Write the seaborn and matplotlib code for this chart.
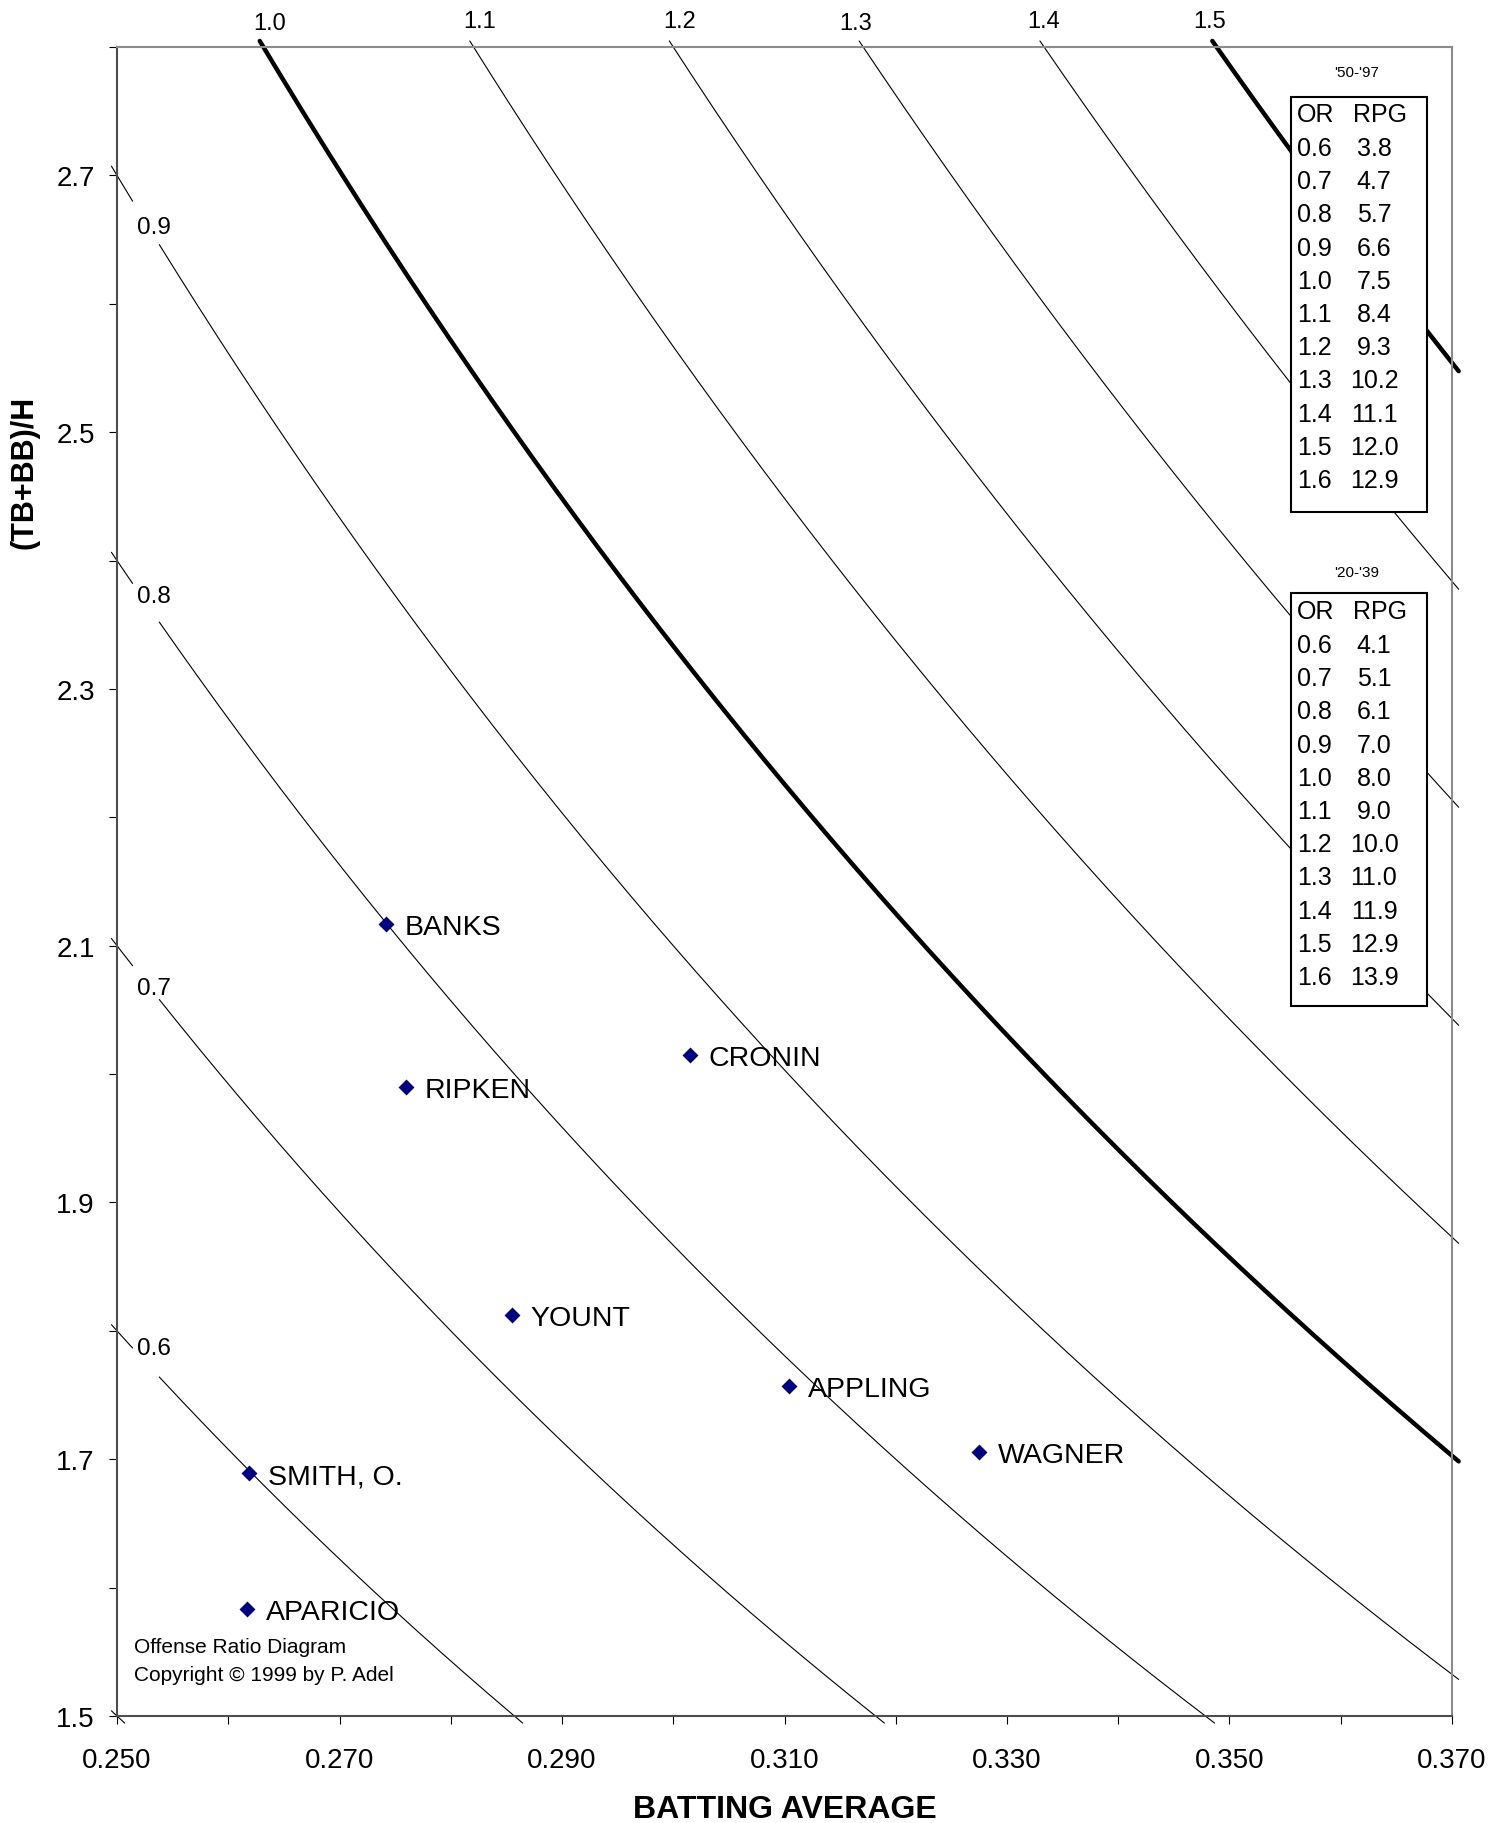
import numpy as np
import pandas as pd
import matplotlib
matplotlib.use("Agg")
import matplotlib.pyplot as plt
from matplotlib.patches import Rectangle
from matplotlib.ticker import FixedLocator, MultipleLocator, FormatStrFormatter
import seaborn as sns

# offense ratio:  OR = (TB+BB)/H * BA / (1 - BA)
or_levels = [0.5, 0.6, 0.7, 0.8, 0.9, 1.0, 1.1, 1.2, 1.3, 1.4, 1.5]
thick_levels = [1.0, 1.5]
left_labels = [0.6, 0.7, 0.8, 0.9]
left_label_r = [1.787, 2.067, 2.372, 2.660]
top_labels = [1.0, 1.1, 1.2, 1.3, 1.4, 1.5]
top_label_dx = [4.3, 4.3, 4.3, -5.8, 0, -5]
top_label_dy = [17.5, 19, 19, 17.5, 19, 19]

players = ["BANKS", "RIPKEN", "CRONIN", "YOUNT", "APPLING", "WAGNER", "SMITH, O.", "APARICIO"]
batting_avg = [0.2742, 0.2760, 0.3015, 0.2855, 0.3104, 0.3275, 0.2619, 0.2617]
tb_bb_per_h = [2.117, 1.990, 2.015, 1.8125, 1.757, 1.7056, 1.689, 1.583]

table_or = [0.6, 0.7, 0.8, 0.9, 1.0, 1.1, 1.2, 1.3, 1.4, 1.5, 1.6]
rpg_50_97 = [3.8, 4.7, 5.7, 6.6, 7.5, 8.4, 9.3, 10.2, 11.1, 12.0, 12.9]
rpg_20_39 = [4.1, 5.1, 6.1, 7.0, 8.0, 9.0, 10.0, 11.0, 11.9, 12.9, 13.9]

x_ticks = [0.250, 0.270, 0.290, 0.310, 0.330, 0.350, 0.370]
y_ticks = [1.5, 1.7, 1.9, 2.1, 2.3, 2.5, 2.7]

sns.set_style("white")
plt.rcParams["font.family"] = ["Liberation Sans", "DejaVu Sans"]
plt.rcParams["text.color"] = "black"
plt.rcParams["axes.labelcolor"] = "black"
plt.rcParams["xtick.color"] = "black"
plt.rcParams["ytick.color"] = "black"

fig = plt.figure(figsize=(15.09, 18.24), dpi=100)
AX_L, AX_R, AX_T, AX_B = 117, 1452, 48, 1717
ax = fig.add_axes([AX_L / 1509, 1 - AX_B / 1824, (AX_R - AX_L) / 1509, (AX_B - AX_T) / 1824])


def fx(px):
    return (px - AX_L) / (AX_R - AX_L)


def fy(py):
    return (AX_B - py) / (AX_B - AX_T)


# curves (drawn a little past the frame, like the original)
x0, x1, y0, y1 = 0.2495, 0.3706, 1.4945, 2.8047
gap = (0.2514, 0.2538)
rows = []
seg = 0
for lvl in or_levels:
    a = max(x0, lvl / (lvl + y1))
    b = min(x1, lvl / (lvl + y0))
    if a >= b:
        continue
    if lvl in left_labels:
        pieces = [np.linspace(a, gap[0], 50), np.linspace(gap[1], b, 400)]
    else:
        pieces = [np.linspace(a, b, 400)]
    for ba in pieces:
        seg += 1
        for v in ba:
            rows.append({"BA": v, "R": lvl * (1 - v) / v, "level": lvl, "seg": seg,
                         "thick": lvl in thick_levels})
curves = pd.DataFrame(rows)

sns.lineplot(data=curves[~curves["thick"]], x="BA", y="R", units="seg", estimator=None,
             sort=False, color="black", linewidth=0.8, ax=ax)
sns.lineplot(data=curves[curves["thick"]], x="BA", y="R", units="seg", estimator=None,
             sort=False, color="black", linewidth=3.2, ax=ax)
for ln in ax.lines:
    ln.set_clip_on(False)

# players
sns.scatterplot(x=batting_avg, y=tb_bb_per_h, marker="D", s=66, color="#000080",
                edgecolor="#000080", linewidth=0, zorder=5, ax=ax)
for name, xv, yv in zip(players, batting_avg, tb_bb_per_h):
    ax.annotate(name, (xv, yv), xytext=(13.5, 0), textcoords="offset points",
                va="center_baseline", ha="left", fontsize=20.5, zorder=6)

# contour labels
for lvl, dx, dy in zip(top_labels, top_label_dx, top_label_dy):
    ax.annotate(f"{lvl:.1f}", (lvl / (lvl + 2.8), 2.8), xytext=(dx, dy),
                textcoords="offset points", ha="center", va="center",
                fontsize=17, annotation_clip=False)
for lvl, r in zip(left_labels, left_label_r):
    ax.text(0.2533, r, f"{lvl:.1f}", ha="center", va="center", fontsize=17.5)

# RPG tables
tables = [("'50-'97", rpg_50_97, 73, 98, 513, 115, 149, 33.2),
          ("'20-'39", rpg_20_39, 573, 594, 1007, 612, 646, 33.2)]
for title, rpg, t_y, top, bot, head_y, row0, step in tables:
    ax.add_patch(Rectangle((fx(1291), fy(bot)), fx(1427) - fx(1291), fy(top) - fy(bot),
                           transform=ax.transAxes, facecolor="white", edgecolor="black",
                           linewidth=1.5, zorder=7, clip_on=False))
    ax.text(fx(1357), fy(t_y), title, transform=ax.transAxes, ha="center", va="center",
            fontsize=11, zorder=8)
    ax.text(fx(1297), fy(head_y), "OR", transform=ax.transAxes, ha="left", va="center",
            fontsize=18, zorder=8)
    ax.text(fx(1380), fy(head_y), "RPG", transform=ax.transAxes, ha="center", va="center",
            fontsize=18, zorder=8)
    for i, (o, r) in enumerate(zip(table_or, rpg)):
        yy = fy(row0 + i * step)
        ax.text(fx(1297), yy, f"{o:.1f}", transform=ax.transAxes, ha="left", va="center",
                fontsize=18, zorder=8)
        ax.text(fx(1374), yy, f"{r:.1f}", transform=ax.transAxes, ha="center", va="center",
                fontsize=18, zorder=8)

ax.text(fx(134), fy(1648), "Offense Ratio Diagram", transform=ax.transAxes,
        ha="left", va="center", fontsize=15)
ax.text(fx(134), fy(1676), "Copyright \u00a9 1999 by P. Adel", transform=ax.transAxes,
        ha="left", va="center", fontsize=15)

# axes
ax.set_xlim(0.25, 0.37)
ax.set_ylim(1.5, 2.8)
ax.xaxis.set_major_locator(FixedLocator(x_ticks))
ax.xaxis.set_minor_locator(MultipleLocator(0.01))
ax.yaxis.set_major_locator(FixedLocator(y_ticks))
ax.yaxis.set_minor_locator(MultipleLocator(0.1))
ax.xaxis.set_major_formatter(FormatStrFormatter("%.3f"))
ax.yaxis.set_major_formatter(FormatStrFormatter("%.1f"))
ax.tick_params(which="both", direction="out", length=6, width=0.8, color="black",
               bottom=True, left=True, top=False, right=False)
ax.tick_params(axis="x", which="major", labelsize=20, pad=16)
ax.tick_params(axis="y", which="major", labelsize=20, pad=10)

for side in ["left", "bottom"]:
    ax.spines[side].set_color("#4d4d4d")
    ax.spines[side].set_linewidth(1.5)
for side in ["top", "right"]:
    ax.spines[side].set_color("#8c8c8c")
    ax.spines[side].set_linewidth(1.5)

ax.set_xlabel("BATTING AVERAGE", fontsize=23, fontweight="bold")
ax.set_ylabel("(TB+BB)/H", fontsize=22, fontweight="bold")
ax.xaxis.label.set_va("center")
ax.yaxis.label.set_va("center")
ax.xaxis.set_label_coords(fx(785), fy(1810))
ax.yaxis.set_label_coords(fx(25), fy(472))

fig.savefig("out.png", dpi=100, facecolor="white")
